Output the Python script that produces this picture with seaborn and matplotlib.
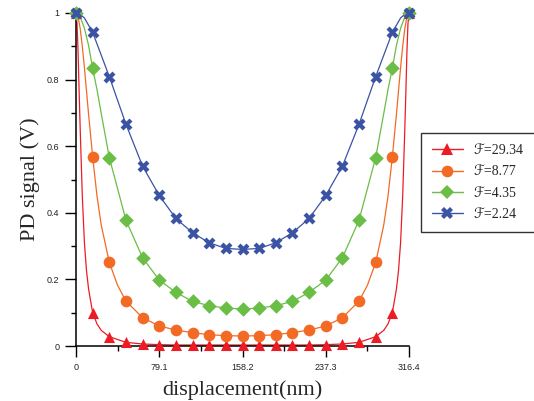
import numpy as np
import pandas as pd
import matplotlib
matplotlib.use("Agg")
import matplotlib.pyplot as plt
import seaborn as sns
from matplotlib.lines import Line2D
from matplotlib.ticker import FixedLocator

# marker positions (nm)
x_pts = [0, 15.82, 31.64, 47.46, 63.28, 79.1, 94.92, 110.74, 126.56, 142.38, 158.2,
         174.02, 189.84, 205.66, 221.48, 237.3, 253.12, 268.94, 284.76, 300.58, 316.4]

# marker values
red_pts = [1.0, 0.100, 0.028, 0.011, 0.006, 0.004, 0.003, 0.003, 0.003, 0.003, 0.003,
           0.003, 0.003, 0.003, 0.003, 0.004, 0.006, 0.011, 0.028, 0.100, 1.0]
orange_pts = [1.0, 0.568, 0.251, 0.135, 0.085, 0.060, 0.048, 0.040, 0.034, 0.031, 0.030,
              0.031, 0.034, 0.040, 0.048, 0.060, 0.085, 0.135, 0.251, 0.568, 1.0]
green_pts = [1.0, 0.834, 0.566, 0.378, 0.265, 0.198, 0.161, 0.134, 0.121, 0.114, 0.111,
             0.114, 0.121, 0.134, 0.161, 0.198, 0.265, 0.378, 0.566, 0.834, 1.0]
blue_pts = [1.0, 0.942, 0.809, 0.666, 0.540, 0.452, 0.383, 0.340, 0.310, 0.293, 0.290,
            0.293, 0.310, 0.340, 0.383, 0.452, 0.540, 0.666, 0.809, 0.942, 1.0]

# extra points of the smooth curves near the peaks
red_cx = [1, 2, 3, 4, 6, 8, 10, 12, 20, 24,
          292.4, 296.4, 304.4, 306.4, 308.4, 310.4, 312.4, 313.4, 314.4, 315.4]
red_cy = [0.967, 0.88, 0.76, 0.65, 0.45, 0.31, 0.225, 0.17, 0.066, 0.047,
          0.047, 0.066, 0.17, 0.225, 0.31, 0.45, 0.65, 0.76, 0.88, 0.967]
orange_cx = [2, 4, 6, 8, 10, 12, 20, 24, 39.55,
             276.85, 292.4, 296.4, 304.4, 306.4, 308.4, 310.4, 312.4, 314.4]
orange_cy = [0.988, 0.953, 0.90, 0.836, 0.765, 0.694, 0.449, 0.363, 0.182,
             0.182, 0.363, 0.449, 0.694, 0.765, 0.836, 0.90, 0.953, 0.988]
green_cx = [4, 8, 12, 20, 24, 292.4, 296.4, 304.4, 308.4, 312.4]
green_cy = [0.988, 0.954, 0.902, 0.769, 0.698, 0.698, 0.769, 0.902, 0.954, 0.988]
blue_cx = [4, 8, 308.4, 312.4]
blue_cy = [0.996, 0.985, 0.985, 0.996]

labels = ["\u2131=29.34", "\u2131=8.77", "\u2131=4.35", "\u2131=2.24"]
colors = ["#ED1C24", "#F26A24", "#6ABD45", "#3A53A4"]
markers = ["^", "o", "D", "X"]
msizes = [8.0, 8.4, 7.4, 8.6]

xticks = [0, 79.1, 158.2, 237.3, 316.4]
xtick_labels = ["0", "79.1", "158.2", "237.3", "316.4"]
yticks = [0, 0.2, 0.4, 0.6, 0.8, 1.0]
ytick_labels = ["0", "0.2", "0.4", "0.6", "0.8", "1"]

sns.set_style("ticks")
plt.rcParams["font.family"] = ["Liberation Sans", "DejaVu Sans"]

fig = plt.figure(figsize=(5.34, 4.01), dpi=100)
ax = fig.add_axes([76 / 534, 55 / 401, 333 / 534, 333 / 401])

series = [
    (red_pts, red_cx, red_cy),
    (orange_pts, orange_cx, orange_cy),
    (green_pts, green_cx, green_cy),
    (blue_pts, blue_cx, blue_cy),
]

for (pts, cx, cy), c, m, ms in zip(series, colors, markers, msizes):
    curve = pd.DataFrame({"x": list(x_pts) + list(cx), "y": list(pts) + list(cy)})
    curve = curve.sort_values("x")
    sns.lineplot(data=curve, x="x", y="y", sort=True, estimator=None, color=c,
                 lw=0.9, ax=ax, legend=False)
    sns.scatterplot(x=x_pts, y=pts, marker=m, s=ms ** 2, color=c, linewidth=0,
                    ax=ax, legend=False, clip_on=False, zorder=3)

ax.set_xlim(0, 316.4)
ax.set_ylim(0, 1)
ax.set_xticks(xticks)
ax.set_xticklabels(xtick_labels)
ax.xaxis.set_minor_locator(FixedLocator([39.55, 118.65, 197.75, 276.85]))
ax.set_yticks(yticks)
ax.set_yticklabels(ytick_labels)
ax.yaxis.set_minor_locator(FixedLocator([0.1, 0.3, 0.5, 0.7, 0.9]))

ax.tick_params(which="major", direction="out", length=8, width=1, labelsize=6.5, pad=4,
               color="black", labelcolor="#222222")
ax.tick_params(which="minor", direction="out", length=3.5, width=1, color="black")
for sp in ["left", "bottom"]:
    ax.spines[sp].set_linewidth(1.1)
    ax.spines[sp].set_color("black")
sns.despine(ax=ax)

serif = ["Liberation Serif", "DejaVu Serif"]
ax.set_xlabel("displacement(nm)", fontsize=16, family=serif, labelpad=6)
ax.set_ylabel("PD signal (V)", fontsize=16, family=serif, labelpad=5)

handles = [Line2D([], [], color=c, marker=m, ms=ms, lw=1, mew=0)
           for c, m, ms in zip(colors, markers, msizes)]
leg = fig.legend(handles, labels, loc="upper left", bbox_to_anchor=(421 / 534, 1 - 133 / 401),
                 bbox_transform=fig.transFigure, borderaxespad=0, fancybox=False,
                 frameon=True, edgecolor="black", handlelength=2.2, handletextpad=0.8,
                 borderpad=0.8, labelspacing=0.6,
                 prop={"family": ["Liberation Serif", "DejaVu Sans"], "size": 10})
leg.get_frame().set_linewidth(1)

fig.savefig("out.png", dpi=100)
